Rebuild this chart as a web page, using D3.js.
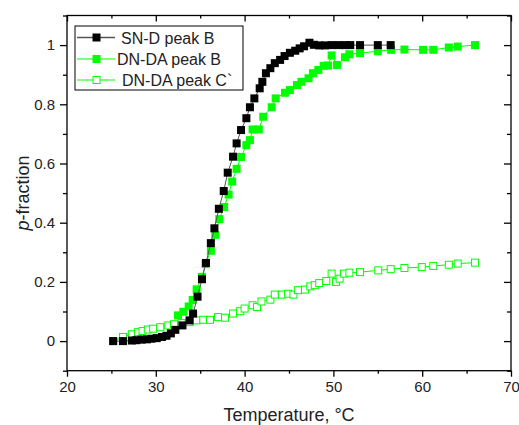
<!doctype html>
<html>
<head>
  <meta charset="utf-8">
  <title>p-fraction vs temperature</title>
  <style>
    html, body { margin: 0; padding: 0; background: #fff; }
    svg { display: block; font-family: "Liberation Sans", Arial, sans-serif; }
  </style>
</head>
<body>
  <svg id="chart" width="519" height="425"></svg>

  <script src="https://d3js.org/d3.v7.min.js"></script>
  <script>

    // ..... Data .....

    // SN-D peak B
    var snTemp = [25.2, 26.3, 27.3, 27.8, 28.4, 29.0, 29.5, 30.1, 30.7, 31.2,
                  31.7, 32.2, 33.0, 33.8, 34.2, 34.7, 35.2, 35.65, 36.2, 36.6,
                  37.1, 37.65, 38.1, 38.7, 39.1, 39.6, 40.2, 40.6, 41.1, 41.7,
                  42.0, 42.4, 42.9, 43.4, 44.0, 44.5, 45.1, 45.7, 46.2, 46.7,
                  47.3, 47.8, 48.4, 49.05, 49.8, 50.55, 51.3, 51.9, 53.0, 55.0,
                  56.45];
    var snP    = [0, 0, 0.002, 0.003, 0.005, 0.006, 0.008, 0.010, 0.014, 0.018,
                  0.026, 0.038, 0.053, 0.070, 0.093, 0.150, 0.209, 0.264, 0.331, 0.381,
                  0.447, 0.507, 0.569, 0.623, 0.668, 0.713, 0.753, 0.790, 0.820, 0.854,
                  0.876, 0.905, 0.922, 0.939, 0.950, 0.963, 0.974, 0.981, 0.989, 0.996,
                  1.008, 1.001, 0.999, 0.999, 1.0, 1.0, 1.0, 1.0, 1.0, 1.0,
                  1.0];

    // DN-DA peak B
    var dbTemp = [32.5, 33.1, 33.7, 34.15, 34.6, 35.2, 35.6, 36.2, 36.7, 37.15,
                  37.7, 38.2, 38.6, 39.1, 39.6, 40.2, 40.6, 40.9, 41.6, 42.1,
                  43.05, 43.5, 44.55, 45.1, 45.9, 46.4, 47.2, 47.7, 48.3, 48.9,
                  49.4, 49.8, 50.4, 51.3, 51.8, 53.0, 55.0, 56.5, 58.0, 60.1,
                  61.25, 63.0, 64.0, 65.95];
    var dbP    = [0.087, 0.099, 0.117, 0.139, 0.175, 0.217, 0.260, 0.305, 0.359, 0.412,
                  0.453, 0.495, 0.539, 0.582, 0.622, 0.662, 0.679, 0.715, 0.715, 0.758,
                  0.790, 0.820, 0.839, 0.848, 0.865, 0.876, 0.888, 0.905, 0.916, 0.930,
                  0.931, 0.965, 0.933, 0.959, 0.969, 0.973, 0.979, 0.984, 0.985, 0.984,
                  0.984, 0.992, 0.995, 1.0];

    // DN-DA peak C`
    var dcTemp = [25.2, 26.3, 27.3, 28.0, 28.5, 29.1, 29.7, 30.5, 31.4, 32.05,
                  32.9, 33.8, 34.6, 35.35, 36.1, 37.0, 37.8, 38.7, 39.5, 40.0,
                  40.9, 41.4, 41.9, 42.9, 43.4, 44.2, 44.9, 45.5, 46.0, 46.8,
                  47.4, 47.9, 48.4, 49.2, 49.8, 50.3, 50.7, 51.2, 51.8, 53.0,
                  55.05, 56.45, 58.0, 59.95, 61.25, 63.0, 64.0, 65.95];
    var dcP    = [0.0, 0.014, 0.023, 0.030, 0.034, 0.039, 0.042, 0.047, 0.053, 0.057,
                  0.061, 0.064, 0.070, 0.072, 0.072, 0.081, 0.079, 0.093, 0.101, 0.110,
                  0.121, 0.115, 0.134, 0.140, 0.157, 0.157, 0.160, 0.157, 0.172, 0.174,
                  0.185, 0.189, 0.196, 0.203, 0.228, 0.200, 0.211, 0.228, 0.231, 0.233,
                  0.239, 0.243, 0.247, 0.250, 0.254, 0.258, 0.262, 0.265];

    var xMajor = [20, 30, 40, 50, 60, 70];
    var xMinor = [25, 35, 45, 55, 65];
    var yMajor = [0, 0.2, 0.4, 0.6, 0.8, 1];
    var yMinor = [-0.1, 0.1, 0.3, 0.5, 0.7, 0.9, 1.1];

    var legendLabels = ["SN-D peak B", "DN-DA peak B", "DN-DA peak C`"];

    // ..... Layout .....

    var svg = d3.select("#chart");
    var pLeft = 67, pRight = 511, pTop = 15.5, pBottom = 370.7;
    var green = "#00ff00";

    var x = d3.scaleLinear().domain([20, 70]).range([pLeft, pRight]);
    var y = d3.scaleLinear().domain([-0.1, 1.1]).range([pBottom, pTop]);

    function pairs(t, p) {
      return t.map(function (d, i) { return [d, p[i]]; });
    }

    var line = d3.line()
        .x(function (d) { return x(d[0]); })
        .y(function (d) { return y(d[1]); });

    // ..... Axes .....

    // bottom: outward ticks with labels
    svg.append("g")
        .attr("transform", "translate(0," + pBottom + ")")
        .call(d3.axisBottom(x).tickValues(xMajor).tickSize(6).tickPadding(5)
          .tickFormat(d3.format("d")));
    svg.append("g")
        .attr("transform", "translate(0," + pBottom + ")")
        .call(d3.axisBottom(x).tickValues(xMinor).tickSize(3).tickFormat(""));

    // left: outward ticks with labels
    svg.append("g")
        .attr("transform", "translate(" + pLeft + ",0)")
        .call(d3.axisLeft(y).tickValues(yMajor).tickSize(7).tickPadding(5)
          .tickFormat(function (d) { return d === 0 || d === 1 ? d3.format("d")(d) : d3.format(".1f")(d); }));
    svg.append("g")
        .attr("transform", "translate(" + pLeft + ",0)")
        .call(d3.axisLeft(y).tickValues(yMinor).tickSize(4).tickFormat(""));

    // top and right: inward ticks, no labels
    svg.append("g")
        .attr("transform", "translate(0," + pTop + ")")
        .call(d3.axisTop(x).tickValues(xMajor).tickSize(-6).tickFormat(""));
    svg.append("g")
        .attr("transform", "translate(0," + pTop + ")")
        .call(d3.axisTop(x).tickValues(xMinor).tickSize(-3).tickFormat(""));
    svg.append("g")
        .attr("transform", "translate(" + pRight + ",0)")
        .call(d3.axisRight(y).tickValues(yMajor).tickSize(-7).tickFormat(""));
    svg.append("g")
        .attr("transform", "translate(" + pRight + ",0)")
        .call(d3.axisRight(y).tickValues(yMinor).tickSize(-4).tickFormat(""));

    svg.selectAll(".tick line")
        .attr("stroke", "#000")
        .attr("stroke-width", 1.3);
    svg.selectAll(".domain").remove();
    svg.selectAll(".tick text")
        .attr("fill", "#222")
        .style("font-size", "15px")
        .style("font-family", "Liberation Sans, Arial, sans-serif");

    // frame
    svg.append("rect")
        .attr("x", pLeft)
        .attr("y", pTop)
        .attr("width", pRight - pLeft)
        .attr("height", pBottom - pTop)
        .attr("fill", "none")
        .attr("stroke", "#000")
        .attr("stroke-width", 1.3);

    // axis titles
    svg.append("text")
        .attr("x", (pLeft + pRight) / 2)
        .attr("y", 421)
        .attr("text-anchor", "middle")
        .attr("fill", "#222")
        .style("font-size", "18px")
        .text("Temperature, \u00b0C");

    var yt = svg.append("text")
        .attr("transform", "translate(29," + ((pTop + pBottom) / 2) + ") rotate(-90)")
        .attr("text-anchor", "middle")
        .attr("fill", "#222")
        .style("font-size", "18px");
    yt.append("tspan").style("font-style", "italic").text("p");
    yt.append("tspan").text("-fraction");

    // ..... Series .....

    var plot = svg.append("g");

    // DN-DA peak C` (open squares)
    var dc = pairs(dcTemp, dcP);
    plot.append("path")
        .datum(dc)
        .attr("d", line)
        .attr("fill", "none")
        .attr("stroke", green)
        .attr("stroke-width", 1);
    plot.selectAll(".dc")
        .data(dc)
      .enter().append("rect")
        .attr("class", "dc")
        .attr("x", function (d) { return x(d[0]) - 3.5; })
        .attr("y", function (d) { return y(d[1]) - 3.5; })
        .attr("width", 7)
        .attr("height", 7)
        .attr("fill", "#fff")
        .attr("stroke", green)
        .attr("stroke-width", 1);

    // DN-DA peak B (filled green)
    var db = pairs(dbTemp, dbP);
    plot.append("path")
        .datum(db)
        .attr("d", line)
        .attr("fill", "none")
        .attr("stroke", green)
        .attr("stroke-width", 1);
    plot.selectAll(".db")
        .data(db)
      .enter().append("rect")
        .attr("class", "db")
        .attr("x", function (d) { return x(d[0]) - 4; })
        .attr("y", function (d) { return y(d[1]) - 4; })
        .attr("width", 8)
        .attr("height", 8)
        .attr("fill", green);

    // SN-D peak B (filled black)
    var sn = pairs(snTemp, snP);
    plot.append("path")
        .datum(sn)
        .attr("d", line)
        .attr("fill", "none")
        .attr("stroke", "#555")
        .attr("stroke-width", 1);
    plot.selectAll(".sn")
        .data(sn)
      .enter().append("rect")
        .attr("class", "sn")
        .attr("x", function (d) { return x(d[0]) - 4; })
        .attr("y", function (d) { return y(d[1]) - 4; })
        .attr("width", 8)
        .attr("height", 8)
        .attr("fill", "#000");

    // ..... Legend .....

    var legend = svg.append("g");
    legend.append("rect")
        .attr("x", 75)
        .attr("y", 26)
        .attr("width", 168)
        .attr("height", 64)
        .attr("fill", "#fff")
        .attr("stroke", "#000")
        .attr("stroke-width", 1);

    var rows = [
      { label: legendLabels[0], cy: 37.5, tx: 121, line: "#555", fill: "#000", stroke: "none" },
      { label: legendLabels[1], cy: 59, tx: 117, line: green, fill: green, stroke: "none" },
      { label: legendLabels[2], cy: 80, tx: 122, line: green, fill: "#fff", stroke: green }
    ];

    rows.forEach(function (r) {
      legend.append("line")
          .attr("x1", 77).attr("x2", 115)
          .attr("y1", r.cy).attr("y2", r.cy)
          .attr("stroke", r.line)
          .attr("stroke-width", r.line === "#555" ? 1.5 : 1);
      legend.append("rect")
          .attr("x", 96.5 - (r.stroke === "none" ? 4 : 3.5))
          .attr("y", r.cy - (r.stroke === "none" ? 4 : 3.5))
          .attr("width", r.stroke === "none" ? 8 : 7)
          .attr("height", r.stroke === "none" ? 8 : 7)
          .attr("fill", r.fill)
          .attr("stroke", r.stroke);
      legend.append("text")
          .attr("x", r.tx)
          .attr("y", r.cy + 6)
          .attr("fill", "#222")
          .style("font-size", "16px")
          .text(r.label);
    });
  </script>
</body>
</html>
